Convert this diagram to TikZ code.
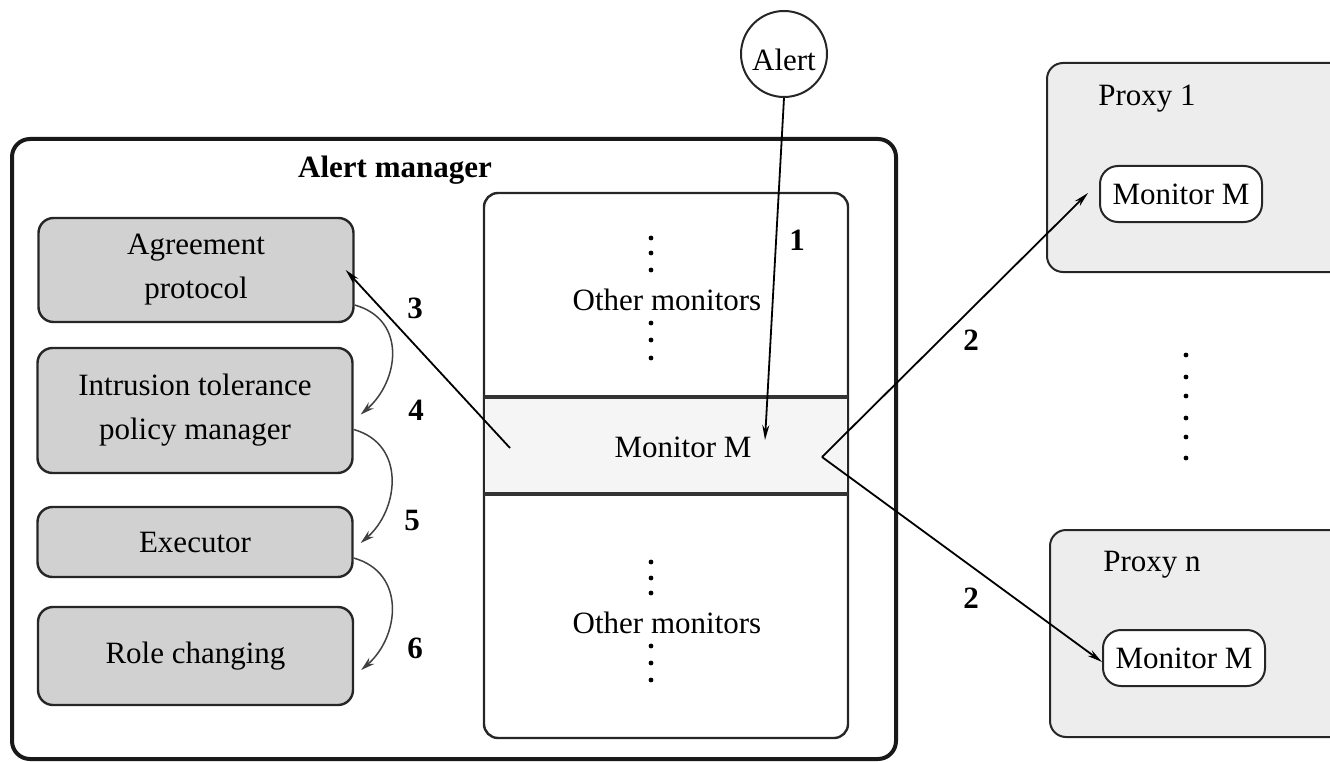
\documentclass[tikz,border=0pt]{standalone}
\usepackage{fontspec}
\setmainfont{Liberation Serif}
\usetikzlibrary{arrows.meta}

\begin{document}
\begin{tikzpicture}[x=1pt,y=-1pt,
  font=\fontsize{31}{44}\selectfont,
  panel/.style={draw=black!85, line width=2.4pt, rounded corners=15pt,
    fill=black!18, align=center, inner sep=0pt, minimum width=315pt},
  proxybox/.style={draw=black!85, line width=2pt, rounded corners=16pt,
    fill=black!7},
  monbox/.style={draw=black!85, line width=2pt, rounded corners=18pt,
    fill=white, minimum width=162pt, minimum height=56pt, inner sep=0pt},
  num/.style={font=\fontsize{31}{36}\selectfont\bfseries},
  flow/.style={draw=black!75, line width=1.5pt, -{Stealth[length=14pt,width=8pt]}},
  send/.style={draw=black, line width=1.8pt, -{Stealth[length=15pt,width=7pt]}},
  dot/.style={fill=black}
]
\clip (0,0) rectangle (1330,762);

% Alert manager frame
\draw[line width=4pt, draw=black!90, rounded corners=18pt] (12,139) rectangle (896,759);
\node[font=\fontsize{31}{36}\selectfont\bfseries] (amlabel) at (395,170) {Alert manager};

% monitor column with the highlighted band for monitor M
\draw[line width=2.4pt, draw=black!85, rounded corners=14pt] (484,193) rectangle (848,738);
\fill[black!4] (485,397) rectangle (847,494);
\draw[line width=4pt, draw=black!80] (484,397) -- (848,397);
\draw[line width=4pt, draw=black!80] (484,494) -- (848,494);
\node (mon) at (683,447) {Monitor M};

\node (other1) at (667,300) {Other monitors};
\node (other2) at (667,623) {Other monitors};
\foreach \y in {238,253,270,323,340,358,562,578,593,646,663,680}
  \fill[dot] (651,\y) circle (2.4);

% processing stages
\node[panel, minimum height=104pt] (agree) at (196,270) {Agreement\\protocol};
\node[panel, minimum height=125pt] (intr) at (195,410.5) {Intrusion tolerance\\policy manager};
\node[panel, minimum height=70pt] (exec) at (195,542) {Executor};
\node[panel, minimum height=98pt] (role) at (195.5,656) {Role changing};

% alert input
\node[draw=black!85, line width=2pt, circle, fill=white, minimum size=86pt, inner sep=0pt] (alert) at (784,54) {\raisebox{-6pt}[\height][\depth]{Alert}};
\coordinate (hit) at (765,440);
\draw[send] (alert.south) -- (hit);
\node[num] (n1) at (797,240) {1};

% monitor M reports to the agreement protocol
\coordinate (m3) at (510,448);
\draw[send] (m3) -- ([xshift=-9pt]agree.east);
\node[num] (n3) at (415,308) {3};

% stage chain
\draw[flow] ([yshift=-35pt]agree.east) .. controls +(53,15) and +(38,-33) .. ([xshift=7pt,yshift=-4pt]intr.east);
\draw[flow] ([yshift=-19pt]intr.east) .. controls +(53,15) and +(38,-33) .. ([xshift=7pt,yshift=-1pt]exec.east);
\draw[flow] ([yshift=-16pt]exec.east) .. controls +(53,15) and +(38,-33) .. ([xshift=7pt,yshift=-14pt]role.east);
\node[num] (n4) at (416,410) {4};
\node[num] (n5) at (412,520) {5};
\node[num] (n6) at (415,648) {6};

% proxies
\draw[proxybox] (1047,63) rectangle (1360,272);
\node (p1label) at (1147,99) {Proxy 1};
\node[monbox] (pm1) at (1181,194) {Monitor M};

\draw[proxybox] (1050,530) rectangle (1360,737);
\node (pnlabel) at (1152,565) {Proxy n};
\node[monbox] (pmn) at (1184,658) {Monitor M};

\foreach \y in {355,377,396,418,437,458}
  \fill[dot] (1186,\y) circle (2.4);

% monitor M forwards to the proxies
\coordinate (fork) at (822,457);
\draw[send] (fork) -- ([xshift=-11pt,yshift=1pt]pm1.west);
\draw[send] (fork) -- ([yshift=-4pt]pmn.west);
\node[num] (n2a) at (971,340) {2};
\node[num] (n2b) at (971,598) {2};
\end{tikzpicture}
\end{document}
